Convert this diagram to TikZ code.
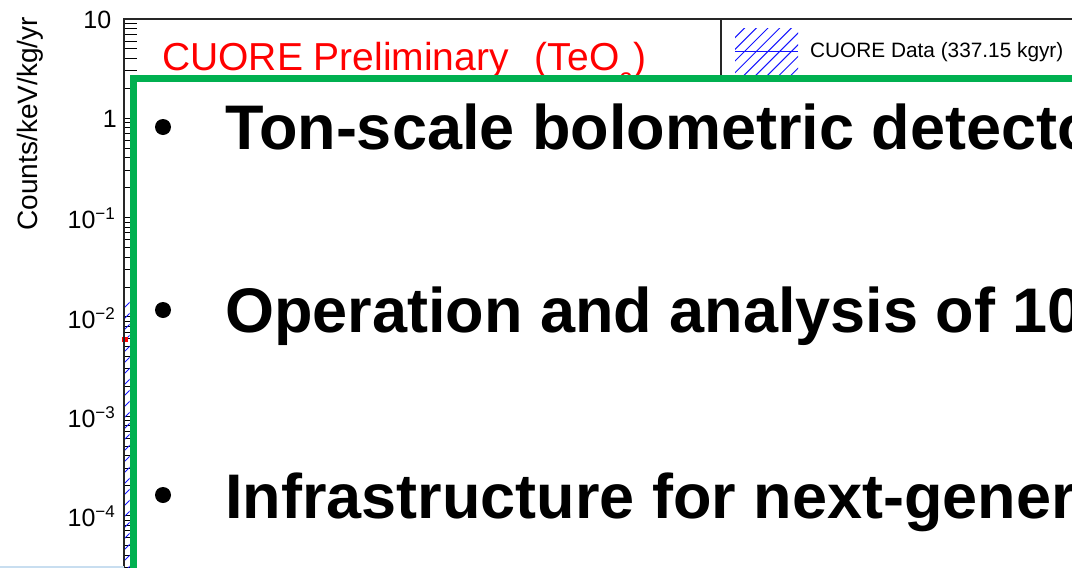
\documentclass[tikz,border=0pt]{standalone}
\usepackage{fontspec}
\setmainfont{Liberation Sans}
\definecolor{cgreen}{RGB}{0,176,80}
\definecolor{cblue}{RGB}{20,20,255}
\definecolor{paleblue}{RGB}{200,222,240}
\begin{document}
\begin{tikzpicture}[x=1pt,y=-1pt,
  lab/.style={inner sep=0pt, anchor=base east, font=\fontsize{25}{25}\selectfont},
  bul/.style={circle, fill=black, inner sep=0pt, minimum size=16pt},
  bigtxt/.style={inner sep=0pt, anchor=base west, font=\fontsize{63}{63}\selectfont\bfseries},
  tickmark/.style={line width=1pt, draw=black},
  axisline/.style={line width=1.3pt, draw=black!85},
  hatchline/.style={line width=1pt, draw=cblue}]
\useasboundingbox (0,0) rectangle (1072,568);
\clip (0,0) rectangle (1072,568);
% ticks
\foreach \d in {0,...,5} {
  \foreach \k in {2,...,9} {
    \pgfmathsetmacro\yy{19+(\d+1)*99.3-ln(\k)/ln(10)*99.3}
    \draw[tickmark] (124,\yy) -- (137,\yy);
  }
  \pgfmathsetmacro\yy{19+\d*99.3}
  \draw[tickmark] (124,\yy) -- (146,\yy);
}
% histogram sliver
\begin{scope}
  \clip (124,297) rectangle (129.5,568);
  \foreach \i in {0,...,25} \draw[hatchline] (124,{297+\i*11}) -- ++(9,-9);
\end{scope}
\fill[red] (122,337) rectangle (128,342);
% axis frame
\coordinate (axbl) at (124,568);
\coordinate (axtl) at (124,19);
\coordinate (axtr) at (1072,19);
\draw[axisline] (axbl) -- (axtl) -- (axtr);
% tick labels
\node[lab] (l0) at (111.5,28) {10};
\node[lab] (l1) at (117,127.5) {1};
\node[lab] (l2) at (115,228.5) {10\raisebox{9pt}{\fontsize{17}{17}\selectfont −1}};
\node[lab] (l3) at (115,328) {10\raisebox{9pt}{\fontsize{17}{17}\selectfont −2}};
\node[lab] (l4) at (115,427) {10\raisebox{9pt}{\fontsize{17}{17}\selectfont −3}};
\node[lab] (l5) at (115,526) {10\raisebox{9pt}{\fontsize{17}{17}\selectfont −4}};
% axis title
\node[rotate=90, anchor=base east, inner sep=0pt, font=\fontsize{28}{28}\selectfont] (ytitle) at (37,17) {Counts/keV/kg/yr};
% red title
\node[anchor=base west, inner sep=0pt, text=red, font=\fontsize{39}{39}\selectfont] (title) at (162,70.5)
  {CUORE Preliminary\hspace{26pt}(TeO\raisebox{-19pt}{\fontsize{24}{24}\selectfont 2}\hspace{1pt})};
% legend
\coordinate (legtop) at (721,19);
\coordinate (legbot) at (721,82);
\draw[axisline] (legtop) -- (legbot);
\begin{scope}
  \clip (735,28) rectangle (798,82);
  \foreach \i in {-4,...,8} \draw[hatchline] ({714+\i*11.7},82) -- ++(60,-60);
\end{scope}
\coordinate (hl) at (735,51);
\coordinate (hr) at (798,51);
\draw[hatchline] (hl) -- (hr);
\node[anchor=base west, inner sep=0pt, font=\fontsize{20.8}{20.8}\selectfont] (legtxt) at (810,57) {CUORE Data (337.15 kgyr)};
% bottom pale line
\coordinate (pl) at (0,567);
\coordinate (pr) at (124,567);
\draw[paleblue, line width=1.5pt] (pl) -- (pr);
% green box
\draw[line width=7pt, draw=cgreen, fill=white] (133,78.5) rectangle (1130,640);
% bullets
\node[bul] (b1) at (163,127) {};
\node[bul] (b2) at (163,310) {};
\node[bul] (b3) at (163,495) {};
\node[bigtxt] (t1) at (225,149) {Ton-scale bolometric detectors};
\node[bigtxt] (t2) at (225,332) {Operation and analysis of 10};
\node[bigtxt] (t3) at (225,518) {Infrastructure for next-generation};
\end{tikzpicture}
\end{document}
